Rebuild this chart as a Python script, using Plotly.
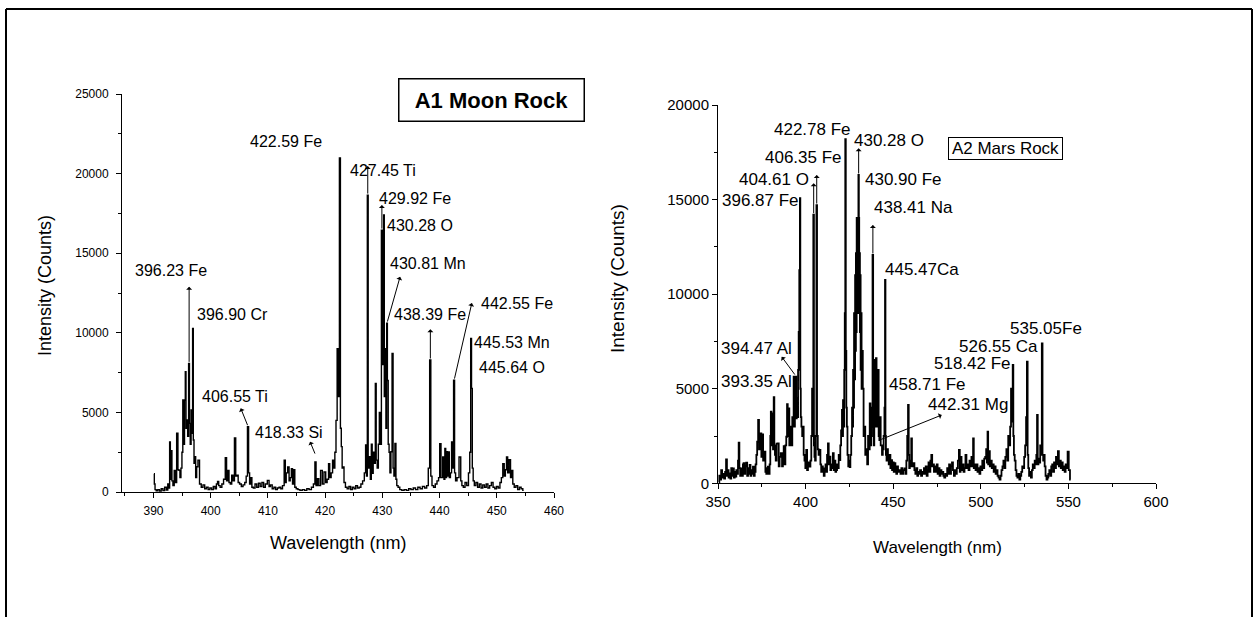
import plotly.graph_objects as go

# ---------------- Moon rock (A1) LIBS spectrum ----------------
moon_wl = [
    390.10, 390.20, 390.35, 390.60, 390.90, 391.20, 391.50, 391.80, 392.10, 392.40,
    392.60, 392.75, 392.90, 393.00, 393.15, 393.30, 393.50, 393.75, 393.90, 394.20,
    394.35, 394.55, 394.70, 394.90, 395.05, 395.20, 395.35, 395.50, 395.62, 395.75,
    395.90, 396.05, 396.23, 396.35, 396.50, 396.65, 396.78, 396.90, 397.02, 397.15,
    397.30, 397.45, 397.65, 397.90, 398.20, 398.50, 398.80, 399.10, 399.40, 399.70,
    400.00, 400.30, 400.60, 400.90, 401.10, 401.30, 401.50, 401.80, 402.10, 402.40,
    402.70, 402.85, 403.10, 403.30, 403.55, 403.80, 404.00, 404.30, 404.45, 404.70,
    404.90, 405.20, 405.50, 405.80, 406.10, 406.30, 406.55, 406.70, 406.90, 407.10,
    407.30, 407.60, 407.90, 408.20, 408.50, 408.80, 409.10, 409.40, 409.70, 410.10,
    410.30, 410.60, 410.90, 411.20, 411.50, 411.80, 412.10, 412.40, 412.70, 412.98,
    413.10, 413.30, 413.60, 413.80, 414.00, 414.20, 414.40, 414.60, 414.80, 415.10,
    415.40, 415.80, 416.20, 416.60, 417.00, 417.40, 417.80, 418.10, 418.33, 418.50,
    418.80, 419.00, 419.40, 419.60, 420.00, 420.20, 420.50, 420.70, 420.90, 421.20,
    421.40, 421.60, 421.80, 422.00, 422.20, 422.40, 422.59, 422.75, 422.90, 423.05,
    423.20, 423.40, 423.70, 424.00, 424.30, 424.60, 424.90, 425.20, 425.50, 425.80,
    426.10, 426.40, 426.70, 427.00, 427.15, 427.30, 427.45, 427.60, 427.80, 428.00,
    428.15, 428.30, 428.50, 428.70, 428.85, 429.00, 429.20, 429.40, 429.55, 429.75,
    429.92, 430.05, 430.15, 430.28, 430.40, 430.55, 430.70, 430.81, 430.95, 431.10,
    431.25, 431.40, 431.60, 431.80, 431.95, 432.10, 432.30, 432.45, 432.60, 432.90,
    433.20, 433.60, 434.00, 434.40, 434.80, 435.20, 435.60, 436.00, 436.40, 436.80,
    437.20, 437.60, 437.90, 438.15, 438.39, 438.55, 438.80, 439.10, 439.40, 439.70,
    439.95, 440.10, 440.40, 440.70, 440.85, 441.00, 441.15, 441.30, 441.45, 441.60,
    441.80, 442.00, 442.20, 442.35, 442.55, 442.70, 442.90, 443.20, 443.60, 443.80,
    444.00, 444.30, 444.60, 444.90, 445.20, 445.35, 445.53, 445.64, 445.80, 445.95,
    446.20, 446.50, 446.80, 447.10, 447.40, 447.70, 448.00, 448.30, 448.60, 448.90,
    449.20, 449.50, 449.80, 450.10, 450.40, 450.70, 450.90, 451.20, 451.40, 451.60,
    451.80, 452.00, 452.30, 452.50, 452.70, 452.90, 453.20, 453.50, 453.80, 454.10,
    454.40, 454.70,
]
moon_counts = [
    1150, 500, 150, 80, 150, 60, 200, 90, 300, 120,
    500, 250, 3150, 800, 2600, 700, 400, 1360, 600, 3700,
    1400, 1360, 900, 1500, 2500, 5780, 3000, 5780, 7560, 4000,
    4520, 3500, 8080, 4310, 3000, 5150, 3680, 10280, 3270, 1800,
    2220, 900, 1590, 2000, 500, 300, 450, 200, 300, 150,
    250, 150, 350, 200, 500, 670, 400, 300, 500, 800,
    2150, 700, 1360, 600, 500, 1050, 700, 3400, 1000, 1050,
    600, 500, 350, 450, 600, 1000, 4100, 1200, 500, 900,
    300, 250, 500, 300, 550, 350, 600, 300, 500, 730,
    350, 450, 200, 300, 150, 250, 300, 200, 400, 1990,
    600, 1200, 1570, 700, 900, 1470, 500, 1400, 300, 200,
    150, 100, 150, 100, 200, 150, 300, 500, 1880, 400,
    840, 400, 1360, 500, 1260, 600, 800, 1780, 900, 1200,
    1990, 1500, 2500, 4500, 9000, 6000, 20980, 4000, 2850, 1500,
    1570, 600, 300, 200, 350, 150, 300, 200, 400, 250,
    300, 500, 700, 1200, 2950, 1000, 18650, 1500, 2220, 800,
    3000, 1170, 2500, 1800, 6820, 2000, 1500, 3000, 5000, 3000,
    16450, 8000, 12000, 17400, 6000, 9000, 4000, 10610, 7000, 3000,
    2500, 1200, 2530, 8710, 1500, 1000, 3050, 800, 400, 300,
    150, 100, 150, 100, 200, 150, 250, 150, 300, 200,
    350, 250, 400, 1500, 8290, 1000, 400, 300, 500, 700,
    900, 3030, 900, 2200, 800, 2740, 900, 2530, 1000, 2510,
    900, 1200, 3140, 1500, 7030, 1200, 700, 900, 2200, 700,
    400, 300, 600, 400, 1200, 2500, 9650, 6510, 1500, 700,
    400, 600, 300, 500, 250, 450, 300, 500, 250, 400,
    600, 300, 200, 350, 250, 600, 900, 1780, 1000, 1400,
    2200, 1200, 2030, 900, 1360, 500, 300, 400, 150, 300,
    200, 100,
]

# ---------------- Mars rock (A2) LIBS spectrum ----------------
mars_wl = [
    350.5, 351.0, 351.5, 352.1, 352.6, 353.2, 353.8, 354.3, 354.9, 355.3,
    355.8, 356.3, 356.8, 357.3, 357.8, 358.3, 358.8, 359.3, 359.8, 360.2,
    360.7, 361.2, 361.6, 362.0, 362.4, 362.9, 363.5, 364.0, 364.4, 364.8,
    365.3, 365.8, 366.4, 366.9, 367.4, 367.8, 368.3, 368.8, 369.3, 369.7,
    370.2, 370.7, 371.2, 371.7, 372.1, 372.6, 373.2, 373.6, 374.0, 374.5,
    375.0, 375.5, 376.0, 376.8, 377.3, 377.8, 378.2, 378.7, 379.2, 379.7,
    380.0, 380.3, 380.7, 381.2, 381.6, 382.0, 382.3, 382.7, 383.2, 383.7,
    384.4, 384.9, 385.4, 386.3, 386.8, 387.3, 387.7, 388.2, 388.7, 389.2,
    389.6, 390.0, 390.5, 390.9, 391.3, 391.7, 392.2, 392.6, 393.0, 393.35,
    393.7, 394.1, 394.47, 394.8, 395.1, 395.5, 395.9, 396.2, 396.6, 396.87,
    397.1, 397.4, 397.8, 398.3, 398.7, 399.1, 399.6, 400.1, 400.6, 401.1,
    401.6, 402.0, 402.5, 403.0, 403.5, 403.9, 404.2, 404.61, 404.9, 405.2,
    405.6, 406.0, 406.35, 406.7, 407.2, 407.6, 408.2, 408.7, 409.1, 409.6,
    410.1, 410.6, 411.1, 411.6, 412.0, 412.5, 413.0, 413.4, 413.9, 414.4,
    414.8, 415.3, 415.8, 416.3, 416.8, 417.2, 417.7, 418.2, 418.7, 419.1,
    419.6, 420.0, 420.5, 421.0, 421.2, 421.5, 421.9, 422.2, 422.5, 422.78,
    423.1, 423.4, 423.7, 424.1, 424.6, 425.0, 425.3, 425.8, 426.3, 426.7,
    427.0, 427.2, 427.5, 427.8, 428.1, 428.4, 428.6, 428.8, 429.0, 429.3,
    429.5, 429.7, 430.0, 430.28, 430.5, 430.7, 430.9, 431.1, 431.3, 431.5,
    431.8, 432.1, 432.4, 432.9, 433.3, 433.8, 434.3, 434.9, 435.4, 435.9,
    436.4, 436.8, 437.2, 437.6, 438.0, 438.41, 438.7, 439.0, 439.4, 439.7,
    440.0, 440.3, 440.7, 441.0, 441.5, 441.9, 442.31, 442.7, 443.0, 443.4,
    443.8, 444.3, 444.8, 445.2, 445.47, 445.7, 446.0, 446.4, 446.8, 447.2,
    447.7, 448.2, 448.6, 449.1, 449.6, 450.1, 450.5, 451.0, 451.5, 452.0,
    452.5, 453.0, 453.9, 454.4, 454.9, 455.4, 456.0, 456.7, 457.2, 457.8,
    458.2, 458.71, 459.0, 459.3, 459.7, 460.1, 460.5, 460.9, 461.3, 461.8,
    462.4, 462.9, 463.5, 464.0, 464.5, 465.0, 465.6, 466.2, 466.8, 467.3,
    467.8, 468.3, 468.8, 469.4, 469.9, 470.4, 470.9, 471.5, 472.0, 472.5,
    473.0, 473.5, 474.0, 474.6, 475.1, 475.6, 476.2, 476.7, 477.3, 477.8,
    478.3, 478.9, 479.4, 480.0, 480.5, 481.1, 481.6, 482.2, 482.7, 483.3,
    483.8, 484.4, 484.9, 485.5, 486.0, 486.6, 487.2, 487.8, 488.2, 488.7,
    489.3, 489.9, 490.4, 491.0, 491.5, 492.1, 492.7, 493.3, 493.8, 494.4,
    494.9, 495.4, 495.8, 496.2, 496.7, 497.3, 497.8, 498.4, 498.9, 499.5,
    500.0, 500.6, 501.1, 501.7, 502.2, 502.8, 503.3, 503.7, 504.0, 504.4,
    504.9, 505.4, 506.0, 506.5, 507.1, 507.6, 508.2, 508.7, 509.3, 509.8,
    510.4, 511.0, 511.5, 512.1, 512.6, 513.2, 513.7, 514.3, 514.9, 515.4,
    515.9, 516.5, 517.0, 517.5, 518.0, 518.42, 518.7, 519.1, 519.6, 520.1,
    520.6, 521.2, 521.7, 522.3, 522.8, 523.4, 523.9, 524.5, 525.0, 525.6,
    526.1, 526.55, 526.9, 527.3, 527.8, 528.3, 528.9, 529.4, 529.9, 530.5,
    531.0, 531.5, 531.9, 532.3, 532.7, 533.1, 533.6, 534.2, 534.6, 535.05,
    535.4, 535.8, 536.2, 536.7, 537.2, 537.8, 538.3, 538.8, 539.4, 539.9,
    540.5, 541.0, 541.5, 542.1, 542.6, 543.2, 543.7, 544.3, 544.8, 545.4,
    545.9, 546.5, 547.0, 547.6, 548.1, 548.7, 549.2, 549.9, 550.5, 551.3,
]
mars_counts = [
    50, 400, 200, 700, 300, 500, 250, 600, 1270, 400,
    700, 300, 530, 250, 800, 400, 790, 300, 600, 350,
    700, 500, 1200, 2150, 800, 400, 790, 400, 1000, 1060,
    500, 900, 1090, 400, 800, 500, 970, 400, 700, 500,
    880, 400, 600, 1000, 1500, 2200, 3350, 1800, 2000, 2640,
    1400, 2590, 1200, 1670, 600, 500, 800, 880, 500, 1000,
    2500, 3790, 2000, 3700, 1800, 4550, 2000, 1500, 1200, 2100,
    2110, 900, 1400, 1590, 900, 1500, 1970, 1000, 2000, 2460,
    4190, 2500, 3960, 2000, 2500, 3000, 2000, 3500, 3000, 5640,
    3000, 4000, 5640, 3430, 4500, 3500, 6000, 8000, 11270, 15070,
    5000, 3500, 3000, 2500, 3000, 1500, 1200, 800, 1760, 700,
    900, 1100, 880, 1200, 2500, 5000, 3000, 14200, 2000, 1400,
    1200, 2500, 14700, 2500, 1800, 1500, 1760, 1000, 600, 900,
    790, 400, 700, 1000, 600, 1500, 2110, 1000, 1410, 700,
    1000, 800, 1590, 700, 1200, 600, 700, 1000, 800, 1500,
    1230, 2000, 2800, 3880, 2500, 4400, 3000, 6000, 9000, 18190,
    7000, 4000, 3000, 1500, 900, 1200, 850, 1500, 2500, 4000,
    3000, 6000, 4000, 9000, 5500, 11000, 7000, 12170, 8000, 14030,
    10000, 12000, 9000, 16300, 14030, 9000, 12170, 8000, 11000, 6000,
    9000, 5000, 7000, 5000, 2500, 3000, 1500, 1800, 1000, 2500,
    1800, 4230, 2000, 2500, 4000, 12070, 3000, 2000, 3500, 6520,
    3000, 6610, 3000, 4000, 5990, 2500, 2290, 3500, 2000, 2000,
    1500, 1800, 2500, 4000, 10750, 2500, 1500, 1200, 1800, 1410,
    1000, 1500, 800, 1230, 700, 1100, 600, 1060, 800, 500,
    900, 600, 700, 500, 800, 500, 700, 790, 500, 1200,
    2500, 4140, 1500, 800, 1200, 900, 2380, 900, 1000, 1060,
    700, 500, 800, 400, 600, 500, 700, 400, 600, 500,
    800, 500, 900, 400, 700, 1100, 600, 1200, 1500, 900,
    1000, 600, 900, 600, 1000, 500, 800, 400, 700, 500,
    600, 400, 300, 500, 400, 800, 500, 1000, 500, 900,
    1100, 700, 400, 700, 500, 800, 1200, 1760, 600, 1400,
    700, 1000, 600, 800, 1500, 800, 1000, 700, 1200, 900,
    1400, 900, 2380, 800, 1000, 700, 1000, 600, 800, 500,
    900, 700, 1200, 800, 1300, 1400, 1800, 1100, 2730, 1000,
    1700, 900, 1200, 800, 1000, 600, 900, 500, 700, 400,
    300, 200, 400, 700, 900, 1200, 800, 1400, 1800, 1200,
    2500, 2000, 3000, 5000, 3260, 6260, 2500, 1500, 1200, 700,
    400, 300, 500, 200, 400, 600, 900, 800, 1400, 2000,
    3500, 6430, 1500, 800, 400, 600, 300, 700, 1000, 800,
    1200, 1000, 1500, 3610, 1000, 1300, 1100, 2000, 1500, 7400,
    1500, 1200, 1500, 900, 400, 200, 300, 500, 700, 400,
    900, 1000, 600, 1100, 800, 1400, 1000, 1700, 900, 1200,
    800, 1100, 700, 900, 600, 1000, 800, 1670, 700, 200,
]

# Peak labels: (text, wavelength, counts) for the left-anchored label position
moon_labels = [
    ("422.59 Fe", 406.5, 22040), ("427.45 Ti", 424.0, 20220),
    ("429.92 Fe", 429.08, 18460), ("430.28 O", 430.48, 16770),
    ("430.81 Mn", 431.0, 14380), ("438.39 Fe", 431.7, 11120),
    ("442.55 Fe", 446.9, 11870), ("445.53 Mn", 445.7, 9360),
    ("445.64 O", 446.6, 7790), ("396.23 Fe", 386.4, 13940),
    ("396.90 Cr", 397.3, 11120), ("406.55 Ti", 398.1, 5970),
    ("418.33 Si", 407.4, 3710),
]
mars_labels = [
    ("422.78 Fe", 380.8, 18730), ("430.28 O", 426.5, 18100),
    ("406.35 Fe", 375.7, 17200), ("404.61 O", 360.8, 16050),
    ("396.87 Fe", 351.1, 14930), ("430.90 Fe", 432.8, 16050),
    ("438.41 Na", 437.9, 14560), ("445.47Ca", 444.2, 11280),
    ("394.47 Al", 350.6, 7150), ("393.35 Al", 350.6, 5360),
    ("458.71 Fe", 446.5, 5200), ("442.31 Mg", 468.7, 4140),
    ("518.42 Fe", 472.1, 6360), ("526.55 Ca", 486.4, 7210),
    ("535.05Fe", 515.5, 8160),
]

# Pointer arrows: (tail wavelength, tail counts, head wavelength, head counts)
moon_arrows = [
    (396.23, 8080, 396.23, 12890), (406.55, 4100, 405.25, 5260),
    (418.33, 2320, 417.37, 3160), (427.45, 18650, 427.45, 20470),
    (429.92, 16450, 429.92, 18020), (430.81, 10610, 433.10, 13520),
    (438.39, 8290, 438.39, 10220), (442.55, 7030, 445.64, 11870),
]
mars_arrows = [
    (394.47, 5670, 386.36, 6690), (404.61, 14200, 404.61, 15860),
    (406.35, 14710, 406.35, 16300), (430.28, 16300, 430.28, 17710),
    (438.41, 12070, 438.41, 13660), (442.31, 2290, 477.70, 3610),
]

W, H = 1255, 617
FONT = "Liberation Sans, Arial, sans-serif"


def fx(px):
    return px / W


def fy(py):
    return 1 - py / H


fig = go.Figure()
fig.add_trace(go.Scatter(x=moon_wl, y=moon_counts, mode="lines",
                         line=dict(color="black", width=1.4, shape="hvh"),
                         xaxis="x", yaxis="y", showlegend=False, hoverinfo="skip"))
fig.add_trace(go.Scatter(x=mars_wl, y=mars_counts, mode="lines",
                         line=dict(color="black", width=1.8, shape="hvh"),
                         xaxis="x2", yaxis="y2", showlegend=False, hoverinfo="skip"))

axis_style = dict(showline=True, linecolor="black", linewidth=1, ticks="outside",
                  ticklen=5, tickwidth=1, tickcolor="black", showgrid=False,
                  zeroline=False, automargin=False, fixedrange=True, tickformat="d")

fig.update_layout(
    width=W, height=H,
    margin=dict(l=0, r=0, t=0, b=0),
    paper_bgcolor="white", plot_bgcolor="rgba(0,0,0,0)",
    font=dict(family=FONT, color="black"),
    xaxis=dict(domain=[fx(122), fx(554)], range=[384.5, 460], tick0=390, dtick=10,
               minor=dict(ticks="outside", ticklen=3, dtick=5, tick0=385, tickcolor="black"),
               tickfont=dict(size=12), ticklabelstandoff=3, anchor="y", **axis_style),
    yaxis=dict(domain=[fy(492), fy(94)], range=[0, 25000], dtick=5000,
               minor=dict(ticks="outside", ticklen=3, dtick=2500, tickcolor="black"),
               tickfont=dict(size=12), ticklabelstandoff=5, anchor="x", **axis_style),
    xaxis2=dict(domain=[fx(718), fx(1156)], range=[350, 600], tick0=350, dtick=50,
                minor=dict(ticks="outside", ticklen=3, dtick=25, tick0=350, tickcolor="black"),
                tickfont=dict(size=15), anchor="y2", **axis_style),
    yaxis2=dict(domain=[fy(483.3), fy(105)], range=[0, 20000], dtick=5000,
                minor=dict(ticks="outside", ticklen=3, dtick=2500, tickcolor="black"),
                tickfont=dict(size=15), anchor="x2", **axis_style),
)

ann = []
for text, wl, cnt in moon_labels:
    ann.append(dict(text=text, x=wl, y=cnt, xref="x", yref="y", xanchor="left",
                    yanchor="middle", showarrow=False, font=dict(size=16)))
for text, wl, cnt in mars_labels:
    ann.append(dict(text=text, x=wl, y=cnt, xref="x2", yref="y2", xanchor="left",
                    yanchor="middle", showarrow=False, font=dict(size=17)))
for tx, ty, hx, hy in moon_arrows:
    ann.append(dict(text="", x=hx, y=hy, ax=tx, ay=ty, xref="x", yref="y",
                    axref="x", ayref="y", showarrow=True, arrowhead=1, arrowsize=1,
                    arrowwidth=1, arrowcolor="black", standoff=0, startstandoff=0))
for tx, ty, hx, hy in mars_arrows:
    ann.append(dict(text="", x=hx, y=hy, ax=tx, ay=ty, xref="x2", yref="y2",
                    axref="x2", ayref="y2", showarrow=True, arrowhead=1, arrowsize=1,
                    arrowwidth=1, arrowcolor="black", standoff=0, startstandoff=0))

# Sample titles in boxes
ann.append(dict(text="<b>A1 Moon Rock</b>", x=fx(492), y=fy(100.5), xref="paper",
                yref="paper", xanchor="center", yanchor="middle", showarrow=False,
                font=dict(size=22), bordercolor="black", borderwidth=1.5, borderpad=0,
                width=184, height=41))
ann.append(dict(text="A2 Mars Rock", x=fx(1005.5), y=fy(149), xref="paper",
                yref="paper", xanchor="center", yanchor="middle", showarrow=False,
                font=dict(size=17), bordercolor="black", borderwidth=1, borderpad=0,
                width=113, height=21))

# Axis titles
for xc, yc, size in [(45, 286, 18), (617, 279, 19)]:
    ann.append(dict(text="Intensity (Counts)", x=fx(xc), y=fy(yc), xref="paper",
                    yref="paper", textangle=-90, showarrow=False, font=dict(size=size),
                    xanchor="center", yanchor="middle"))
for xc, yc, size in [(338, 543, 18), (937, 547, 17)]:
    ann.append(dict(text="Wavelength (nm)", x=fx(xc), y=fy(yc), xref="paper",
                    yref="paper", showarrow=False, font=dict(size=size),
                    xanchor="center", yanchor="middle"))

fig.update_layout(annotations=ann)

# Outer frame around the figure (open at the bottom)
frame = dict(type="line", xref="paper", yref="paper", line=dict(color="black", width=2))
fig.update_layout(shapes=[
    dict(frame, x0=fx(6), x1=fx(1252), y0=fy(9), y1=fy(9)),
    dict(frame, x0=fx(6), x1=fx(6), y0=fy(9), y1=0),
    dict(frame, x0=fx(1252), x1=fx(1252), y0=fy(9), y1=0),
])

fig.write_html("out.html", config=dict(displayModeBar=False))
